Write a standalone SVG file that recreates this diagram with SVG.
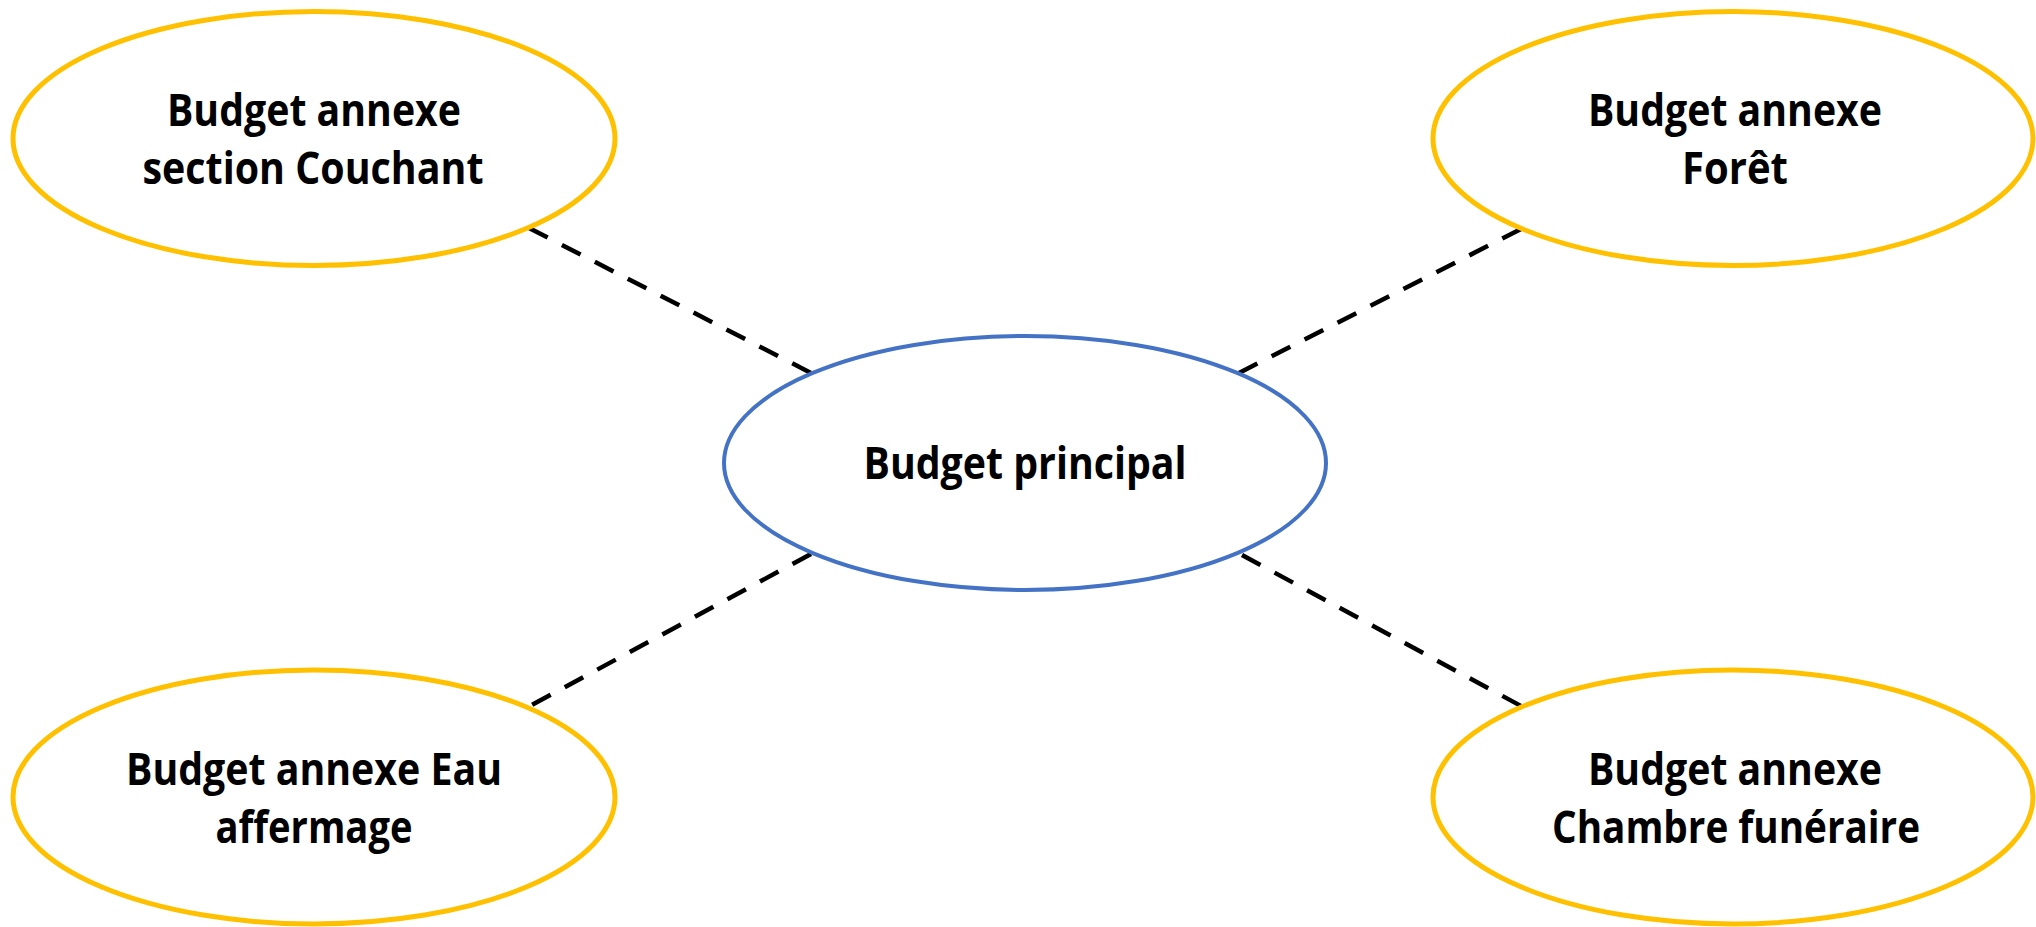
<svg xmlns="http://www.w3.org/2000/svg" width="2036" height="927" viewBox="0 0 2036 927">
<style>
.annex{fill:#FFFFFF;stroke:#FFC000;stroke-width:5}
.main{fill:#FFFFFF;stroke:#4472C4;stroke-width:4}
.lbl{font-family:"Open Sans","Noto Sans","Liberation Sans",sans-serif;font-weight:700;font-size:45px;fill:#000000;text-anchor:middle}
.conn{stroke:#000000;stroke-width:4.5;stroke-dasharray:21 16;fill:none}
</style>
<rect width="2036" height="927" fill="#FFFFFF"/>
<g id="connectors">
<line class="conn" x1="529" y1="228" x2="811" y2="373"/>
<line class="conn" x1="1521" y1="229" x2="1239" y2="373"/>
<line class="conn" x1="811" y1="554" x2="530" y2="706"/>
<line class="conn" x1="1242" y1="555" x2="1521" y2="706"/>
</g>
<g id="node-couchant">
<ellipse class="annex" cx="314" cy="138.5" rx="301" ry="127"/>
<text class="lbl" x="314" y="126" textLength="294" lengthAdjust="spacingAndGlyphs">Budget annexe</text>
<text class="lbl" x="313" y="184" textLength="341" lengthAdjust="spacingAndGlyphs">section Couchant</text>
</g>
<g id="node-foret">
<ellipse class="annex" cx="1733" cy="138.5" rx="300" ry="127"/>
<text class="lbl" x="1735" y="126" textLength="294" lengthAdjust="spacingAndGlyphs">Budget annexe</text>
<text class="lbl" x="1735" y="184" textLength="106" lengthAdjust="spacingAndGlyphs">Forêt</text>
</g>
<g id="node-principal">
<ellipse class="main" cx="1025" cy="463" rx="301" ry="127"/>
<text class="lbl" x="1025" y="479" textLength="323" lengthAdjust="spacingAndGlyphs">Budget principal</text>
</g>
<g id="node-eau">
<ellipse class="annex" cx="314" cy="797" rx="301" ry="127"/>
<text class="lbl" x="314" y="785" textLength="376" lengthAdjust="spacingAndGlyphs">Budget annexe Eau</text>
<text class="lbl" x="314" y="843" textLength="197" lengthAdjust="spacingAndGlyphs">affermage</text>
</g>
<g id="node-funeraire">
<ellipse class="annex" cx="1733" cy="797" rx="300" ry="127"/>
<text class="lbl" x="1735" y="785" textLength="294" lengthAdjust="spacingAndGlyphs">Budget annexe</text>
<text class="lbl" x="1736" y="843" textLength="368" lengthAdjust="spacingAndGlyphs">Chambre funéraire</text>
</g>
</svg>
